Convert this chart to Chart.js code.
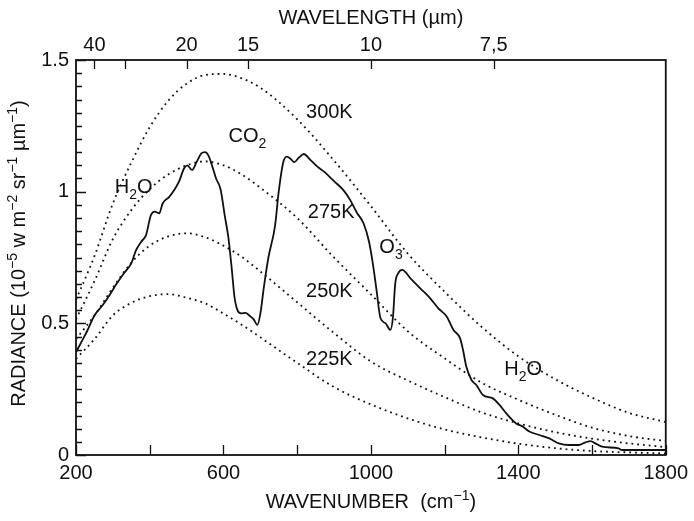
<!DOCTYPE html>
<html>
<head>
<meta charset="utf-8">
<script src="https://cdn.jsdelivr.net/npm/chart.js@4.4.1/dist/chart.umd.min.js"></script>
<style>
  body { margin: 0; background: #fff; }
  #wrap { width: 694px; height: 521px; }
</style>
</head>
<body>
<div id="wrap"><canvas id="chart" width="694" height="521"></canvas></div>
<script>
const FONT = "'Liberation Sans', Arial, Helvetica, sans-serif";

// blackbody curves, sampled by hand (radiance vs wavenumber)
const bbWavenumbers = [200, 250, 300, 350, 400, 450, 500, 550, 600, 650, 700, 800, 900, 1000, 1100, 1200, 1300, 1400, 1500, 1600, 1700, 1800];
const bb300 = [0.59, 0.755, 0.955, 1.11, 1.245, 1.345, 1.41, 1.443, 1.447, 1.43, 1.395, 1.275, 1.118, 0.945, 0.765, 0.62, 0.487, 0.375, 0.288, 0.218, 0.16, 0.125];
const bb275 = [0.515, 0.66, 0.82, 0.93, 1.01, 1.065, 1.1, 1.115, 1.1, 1.065, 1.015, 0.9, 0.75, 0.61, 0.47, 0.367, 0.275, 0.21, 0.153, 0.104, 0.072, 0.053];
const bb250 = [0.44, 0.53, 0.635, 0.73, 0.795, 0.83, 0.842, 0.827, 0.795, 0.752, 0.697, 0.58, 0.463, 0.355, 0.283, 0.22, 0.162, 0.12, 0.087, 0.062, 0.044, 0.03];
const bb225 = [0.365, 0.44, 0.53, 0.578, 0.603, 0.611, 0.597, 0.576, 0.537, 0.494, 0.447, 0.35, 0.258, 0.192, 0.139, 0.097, 0.067, 0.043, 0.026, 0.015, 0.01, 0.006];

// measured spectrum
const specWavenumbers = [200, 215, 230, 250, 270, 290, 310, 330, 350, 363, 377, 390, 403, 414, 426, 435, 453, 466, 480, 493,
  502, 515, 528, 540, 550, 560, 570, 580, 592, 604, 613, 622, 630, 638, 648, 660, 670, 682, 692, 700,
  710, 722, 740, 750, 762, 772, 782, 792, 805, 818, 835, 855, 873, 900, 926, 944, 962, 980, 995, 1005,
  1015, 1026, 1040, 1053, 1060, 1066, 1074, 1085, 1108, 1134, 1161, 1183, 1206, 1224, 1242, 1250, 1259, 1273, 1286, 1304,
  1331, 1349, 1371, 1394, 1412, 1430, 1457, 1484, 1510, 1537, 1564, 1582, 1596, 1609, 1627, 1672, 1681, 1800];
const specRadiance = [0.39, 0.43, 0.47, 0.53, 0.565, 0.605, 0.65, 0.69, 0.728, 0.778, 0.81, 0.835, 0.91, 0.924, 0.918, 0.955, 0.98, 1.005, 1.04, 1.088,
  1.1, 1.082, 1.115, 1.145, 1.15, 1.135, 1.095, 1.05, 1.01, 0.905, 0.83, 0.715, 0.6, 0.55, 0.538, 0.54, 0.53, 0.515, 0.494, 0.535,
  0.64, 0.75, 0.87, 1.0, 1.11, 1.133, 1.125, 1.112, 1.13, 1.143, 1.122, 1.095, 1.076, 1.04, 1.005, 0.968, 0.92, 0.88, 0.81, 0.73,
  0.63, 0.52, 0.5, 0.475, 0.525, 0.65, 0.69, 0.703, 0.67, 0.633, 0.595, 0.557, 0.525, 0.475, 0.443, 0.399, 0.335, 0.285, 0.266, 0.228,
  0.215, 0.19, 0.152, 0.12, 0.108, 0.089, 0.076, 0.063, 0.044, 0.038, 0.038, 0.048, 0.053, 0.044, 0.032, 0.025, 0.019, 0.019];

// top axis: wavelength in micrometres
const wavelengthTicks = [40, 30, 20, 15, 10, 7.5];
const wavelengthLabels = ["40", "", "20", "15", "10", "7,5"];

// text on the plot: [wavenumber, radiance] of the baseline start, parts [text, shift]
const plotLabels = [
  { at: [824, 1.28], parts: [["300K", 0]] },
  { at: [829, 0.9], parts: [["275K", 0]] },
  { at: [824, 0.6], parts: [["250K", 0]] },
  { at: [824, 0.342], parts: [["225K", 0]] },
  { at: [614, 1.189], parts: [["CO", 0], ["2", -1]] },
  { at: [305, 0.995], parts: [["H", 0], ["2", -1], ["O", 0]] },
  { at: [1023, 0.767], parts: [["O", 0], ["3", -1]] },
  { at: [1362, 0.304], parts: [["H", 0], ["2", -1], ["O", 0]] },
];

function points(xs, ys) {
  return xs.map((x, i) => ({ x: x, y: ys[i] }));
}

function drawRich(ctx, parts, x, y, size, align) {
  const small = Math.round(size * 0.68);
  let width = 0;
  parts.forEach(([t, s]) => {
    ctx.font = `${s ? small : size}px ${FONT}`;
    width += ctx.measureText(t).width;
  });
  let cx = align === "center" ? x - width / 2 : x;
  ctx.textBaseline = "alphabetic";
  ctx.textAlign = "left";
  parts.forEach(([t, s]) => {
    ctx.font = `${s ? small : size}px ${FONT}`;
    const dy = s > 0 ? -size * 0.42 : s < 0 ? size * 0.3 : 0;
    ctx.fillText(t, cx, y + dy);
    cx += ctx.measureText(t).width;
  });
}

// frame, inward tick marks, titles and in-plot labels
const decorations = {
  id: "decorations",
  afterDraw(chart) {
    const ctx = chart.ctx;
    const area = chart.chartArea;
    const x = chart.scales.x;
    const x2 = chart.scales.x2;
    const y = chart.scales.y;
    ctx.save();
    ctx.strokeStyle = "#111";
    ctx.fillStyle = "#111";

    ctx.lineWidth = 1.3;
    ctx.beginPath();
    y.ticks.forEach((t) => {
      const py = Math.round(y.getPixelForValue(t.value)) + 0.5;
      const major = Math.abs(t.value * 2 - Math.round(t.value * 2)) < 1e-6;
      ctx.moveTo(area.left, py);
      ctx.lineTo(area.left + (major ? 10 : 6), py);
    });
    x.ticks.forEach((t) => {
      const px = Math.round(x.getPixelForValue(t.value)) + 0.5;
      ctx.moveTo(px, area.bottom);
      ctx.lineTo(px, area.bottom - 10);
    });
    x2.ticks.forEach((t) => {
      const px = Math.round(x2.getPixelForValue(t.value)) + 0.5;
      ctx.moveTo(px, area.top);
      ctx.lineTo(px, area.top + 9);
    });
    ctx.stroke();

    ctx.lineWidth = 1.8;
    ctx.strokeRect(area.left, area.top, area.right - area.left, area.bottom - area.top);

    const midX = (area.left + area.right) / 2;
    drawRich(ctx, [["WAVENUMBER  (cm", 0], ["\u22121", 1], [")", 0]], midX, 508, 20, "center");
    drawRich(ctx, [["WAVELENGTH (\u00b5m)", 0]], midX, 24, 20, "center");

    ctx.save();
    ctx.translate(25, (area.top + area.bottom) / 2 - 4);
    ctx.rotate(-Math.PI / 2);
    drawRich(ctx, [["RADIANCE (10", 0], ["\u22125", 1], [" w m", 0], ["\u22122", 1], [" sr", 0], ["\u22121", 1], [" \u00b5m", 0], ["\u22121", 1], [")", 0]], 0, 0, 20, "center");
    ctx.restore();

    plotLabels.forEach((lab) => {
      drawRich(ctx, lab.parts, x.getPixelForValue(lab.at[0]), y.getPixelForValue(lab.at[1]), 20, "left");
    });
    ctx.restore();
  },
};

function dotted(label, data) {
  return {
    label: label,
    data: points(bbWavenumbers, data),
    borderColor: "#111",
    borderWidth: 1.8,
    borderDash: [1.8, 4],
    pointRadius: 0,
    cubicInterpolationMode: "monotone",
    fill: false,
  };
}

const tickFont = { family: FONT, size: 20 };

new Chart(document.getElementById("chart"), {
  type: "line",
  data: {
    datasets: [
      dotted("300K", bb300),
      dotted("275K", bb275),
      dotted("250K", bb250),
      dotted("225K", bb225),
      {
        label: "spectrum",
        data: points(specWavenumbers, specRadiance),
        borderColor: "#111",
        borderWidth: 1.8,
        pointRadius: 0,
        cubicInterpolationMode: "monotone",
        fill: false,
      },
    ],
  },
  options: {
    responsive: false,
    animation: false,
    devicePixelRatio: 1,
    layout: { padding: { left: 0, right: 23, top: 0, bottom: 0 } },
    plugins: { legend: { display: false }, tooltip: { enabled: false } },
    scales: {
      x: {
        type: "linear",
        position: "bottom",
        min: 200,
        max: 1800,
        grid: { display: false, drawTicks: false },
        border: { display: false },
        ticks: {
          stepSize: 200,
          autoSkip: false,
          maxRotation: 0,
          padding: 6,
          color: "#111",
          font: tickFont,
          callback: (v) => ((v - 200) % 400 === 0 ? String(v) : ""),
        },
        afterFit: (scale) => { scale.height = 66; },
      },
      x2: {
        type: "linear",
        position: "top",
        min: 200,
        max: 1800,
        grid: { display: false, drawTicks: false },
        border: { display: false },
        afterBuildTicks: (scale) => {
          scale.ticks = wavelengthTicks.map((w) => ({ value: 10000 / w }));
        },
        ticks: {
          autoSkip: false,
          maxRotation: 0,
          padding: 3,
          color: "#111",
          font: tickFont,
          callback: (v, i) => wavelengthLabels[i],
        },
        afterFit: (scale) => { scale.height = 60; },
      },
      y: {
        min: 0,
        max: 1.5,
        grid: { display: false, drawTicks: false },
        border: { display: false },
        ticks: {
          stepSize: 0.05,
          autoSkip: false,
          padding: 7,
          color: "#111",
          font: tickFont,
          callback: (v) => {
            if (Math.abs(v * 2 - Math.round(v * 2)) > 1e-6) return "";
            const r = Math.round(v * 2) / 2;
            return r % 1 === 0 ? String(r) : r.toFixed(1);
          },
        },
        afterFit: (scale) => { scale.width = 76; },
      },
    },
  },
  plugins: [decorations],
});
</script>
</body>
</html>
